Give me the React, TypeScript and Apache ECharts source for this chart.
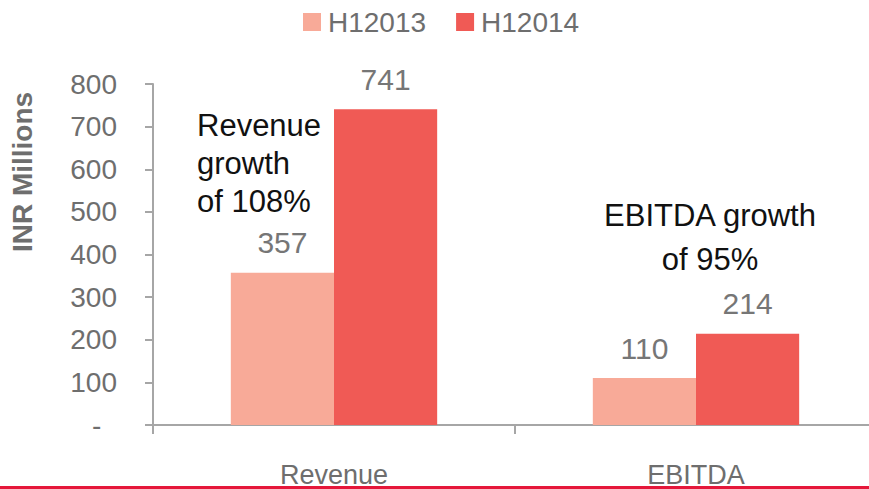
import React, { useEffect, useRef } from "react";
import * as echarts from "echarts";

const categories = ["Revenue", "EBITDA"];
const seriesNames = ["H12013", "H12014"];
const values2013 = [357, 110];
const values2014 = [741, 214];
const yTicks = [0, 100, 200, 300, 400, 500, 600, 700, 800];
const yAxisTitle = "INR Millions";
const revenueNote = "Revenue\ngrowth\nof 108%";
const ebitdaNote = "EBITDA growth\nof 95%";

const FONT = "'Liberation Sans', Arial, sans-serif";
const GRAY = "#6e6e6e";
const AXIS = "#a6a6a6";
const LIGHT = "#F8AA98";
const DARK = "#F05A55";

export default function App() {
  const ref = useRef<HTMLDivElement>(null);
  useEffect(() => {
    if (!ref.current) return;
    const chart = echarts.init(ref.current, null, { renderer: "svg" });
    const labelStyle = {
      show: true,
      position: "top",
      distance: 15,
      fontSize: 30,
      fontFamily: FONT,
      color: "#767676",
    };
    chart.setOption({
      animation: false,
      backgroundColor: "#ffffff",
      legend: {
        data: seriesNames,
        left: 303,
        top: 8,
        padding: 0,
        itemWidth: 18,
        itemHeight: 18,
        itemGap: 30,
        icon: "rect",
        textStyle: { fontSize: 28, fontFamily: FONT, color: GRAY, padding: [0, 0, 0, 2] },
      },
      grid: {
        left: 153,
        right: -8,
        top: 84,
        bottom: 64,
        containLabel: false,
        outerBoundsMode: "none",
      },
      xAxis: {
        type: "category",
        data: categories,
        axisLine: { show: true, lineStyle: { color: AXIS, width: 2 } },
        axisTick: { show: true, length: 9, lineStyle: { color: AXIS, width: 2 } },
        axisLabel: { fontSize: 27, fontFamily: FONT, color: GRAY, margin: 36 },
        splitLine: { show: false },
      },
      yAxis: {
        type: "value",
        min: yTicks[0],
        max: yTicks[yTicks.length - 1],
        interval: yTicks[1] - yTicks[0],
        axisLine: { show: true, lineStyle: { color: AXIS, width: 2 } },
        axisTick: { show: true, length: 8, lineStyle: { color: AXIS, width: 2 } },
        axisLabel: {
          fontSize: 28,
          fontFamily: FONT,
          color: GRAY,
          margin: 36,
          formatter: (v: number) => (v === 0 ? "-\u00a0\u00a0" : String(v)),
        },
        splitLine: { show: false },
      },
      series: [
        {
          name: seriesNames[0],
          type: "bar",
          data: values2013,
          itemStyle: { color: LIGHT },
          barGap: "0%",
          barCategoryGap: "43%",
          label: labelStyle,
        },
        {
          name: seriesNames[1],
          type: "bar",
          data: values2014,
          itemStyle: { color: DARK },
          barGap: "0%",
          barCategoryGap: "43%",
          label: labelStyle,
        },
      ],
      graphic: [
        {
          type: "text",
          x: 22,
          y: 172,
          rotation: Math.PI / 2,
          style: {
            text: yAxisTitle,
            fontSize: 28,
            fontWeight: "bold",
            fontFamily: FONT,
            fill: GRAY,
            align: "center",
            verticalAlign: "middle",
          },
        },
        {
          type: "text",
          x: 197,
          y: 106,
          style: {
            text: revenueNote,
            fontSize: 31,
            lineHeight: 38,
            fontFamily: FONT,
            fill: "#111111",
            align: "left",
            verticalAlign: "top",
          },
        },
        {
          type: "text",
          x: 710,
          y: 193,
          style: {
            text: ebitdaNote,
            fontSize: 31,
            lineHeight: 44,
            fontFamily: FONT,
            fill: "#111111",
            align: "center",
            verticalAlign: "top",
          },
        },
        {
          type: "rect",
          shape: { x: 0, y: 486, width: 869, height: 3 },
          style: { fill: "#E5173A" },
        },
      ],
    });
    return () => chart.dispose();
  }, []);
  return (
    <div
      ref={ref}
      style={{ position: "absolute", left: 0, top: 0, width: 869, height: 489 }}
    />
  );
}
